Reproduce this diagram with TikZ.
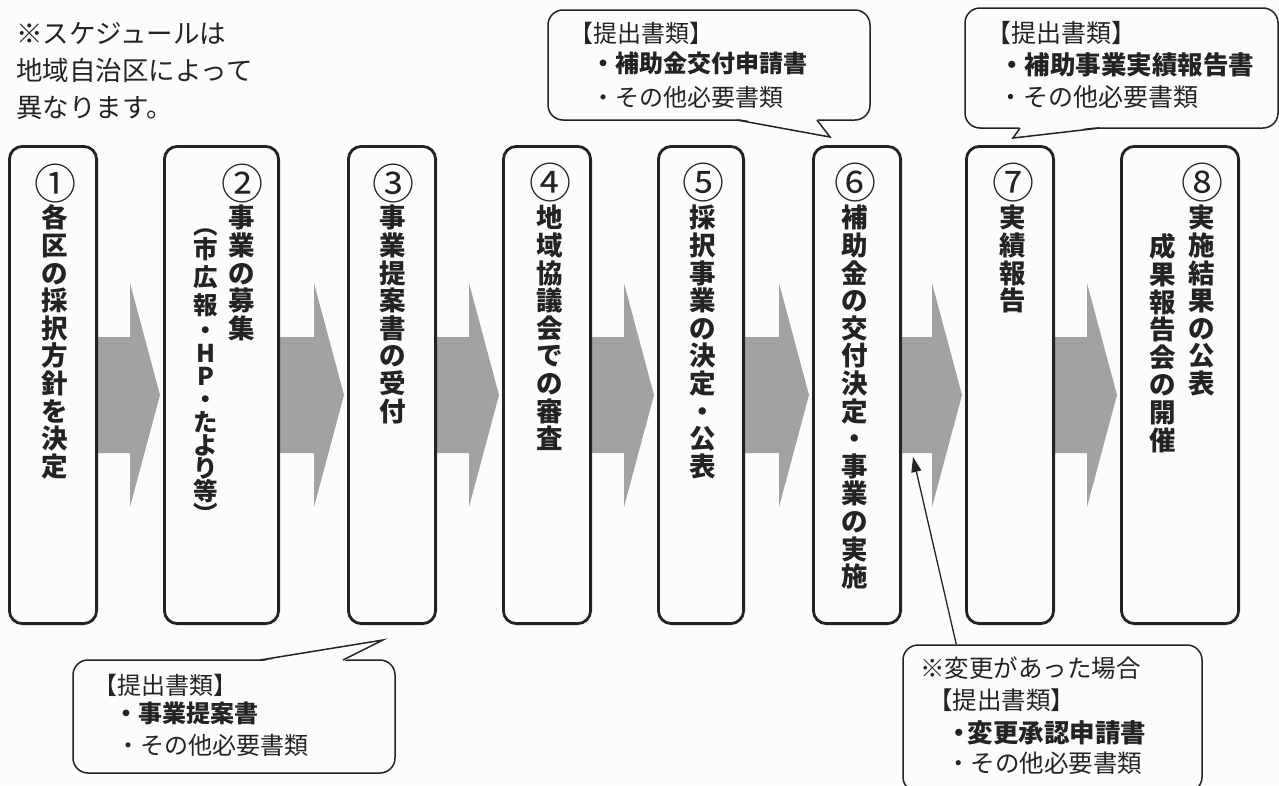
\documentclass[tikz,border=0pt]{standalone}
\usepackage{fontspec}
\setmainfont{Noto Sans CJK JP}
\usetikzlibrary{arrows.meta,calc}
\definecolor{ink}{RGB}{35,35,35}
\definecolor{flowgray}{RGB}{162,162,162}
\definecolor{paper}{RGB}{252,252,250}
\tikzset{
  stepbox/.style={draw=ink, line width=2.8pt, rounded corners=13pt, fill=paper, inner sep=0pt, minimum height=477.2pt},
  ghost/.style={minimum height=477.2pt, inner sep=0pt, outer sep=1.4pt},
  flowarrow/.style={fill=flowgray, draw=none},
  vcol/.style={inner sep=0pt, outer sep=0pt, align=center, anchor=north, text=ink,
    font=\bfseries\fontsize{26.5}{27.6}\selectfont},
  numtext/.style={inner sep=0pt, text=ink, font=\fontsize{28}{28}\selectfont},
  bubble/.style={draw=ink, line width=1.5pt, rounded corners=15pt, fill=paper, inner sep=0pt},
  tailline/.style={draw=ink, line width=1.5pt, line join=miter},
  tailfill/.style={fill=paper, draw=none},
  btext/.style={inner sep=0pt, anchor=base west, text=ink, font=\fontsize{24}{28}\selectfont},
  bbold/.style={btext, font=\bfseries\fontsize{24}{28}\selectfont},
  pointer/.style={draw=ink, line width=1.3pt, -{Triangle[length=15pt,width=10pt]}}
}
\newcommand\flowto[2]{%
  \path[flowarrow] let \p1=(#1.east), \p2=(#2.west) in
    (\x1-3pt,-337pt) -- (\x2-33pt,-337pt) -- (\x2-33pt,-283pt) -- (\x2-3pt,-395pt)
    -- (\x2-33pt,-507pt) -- (\x2-33pt,-453pt) -- (\x1-3pt,-453pt) -- cycle;}
\newcommand\topstrut{\rule{0pt}{26pt}}
\newcommand\circnum[1]{\scalebox{1.5}{#1}}
\begin{document}
\lineskiplimit=-100pt
\begin{tikzpicture}[x=1pt,y=-1pt]
\clip (0,0) rectangle (1279,785);
\fill[paper] (0,0) rectangle (1279,785);

% note
\node[anchor=north west, inner sep=0pt, align=left, text=ink,
  font=\fontsize{26.5}{37}\selectfont] (note) at (16,17)
  {\topstrut ※スケジュールは\\地域自治区によって\\異なります。};

% step boxes (coordinates first, arrows behind)
\path (53,385) coordinate (p1) (221.5,385) coordinate (p2) (392,385) coordinate (p3)
      (547,385) coordinate (p4) (701,385) coordinate (p5) (857,385) coordinate (p6)
      (1010,385) coordinate (p7) (1180,385) coordinate (p8);
\node[ghost, minimum width=87.2pt] (g1) at (p1) {};
\node[ghost, minimum width=114.2pt] (g2) at (p2) {};
\node[ghost, minimum width=87.2pt] (g3) at (p3) {};
\node[ghost, minimum width=87.2pt] (g4) at (p4) {};
\node[ghost, minimum width=85.2pt] (g5) at (p5) {};
\node[ghost, minimum width=87.2pt] (g6) at (p6) {};
\node[ghost, minimum width=87.2pt] (g7) at (p7) {};
\node[ghost, minimum width=117.2pt] (g8) at (p8) {};
\flowto{g1}{g2}
\flowto{g2}{g3}
\flowto{g3}{g4}
\flowto{g4}{g5}
\flowto{g5}{g6}
\flowto{g6}{g7}
\flowto{g7}{g8}

\node[stepbox, minimum width=87.2pt] (s1) at (p1) {};
\node[stepbox, minimum width=114.2pt] (s2) at (p2) {};
\node[stepbox, minimum width=87.2pt] (s3) at (p3) {};
\node[stepbox, minimum width=87.2pt] (s4) at (p4) {};
\node[stepbox, minimum width=85.2pt] (s5) at (p5) {};
\node[stepbox, minimum width=87.2pt] (s6) at (p6) {};
\node[stepbox, minimum width=87.2pt] (s7) at (p7) {};
\node[stepbox, minimum width=117.2pt] (s8) at (p8) {};

% step numbers
\node[numtext] (n1) at (55,184) {\circnum{①}};
\node[numtext] (n2) at (242,184) {\circnum{②}};
\node[numtext] (n3) at (393,184) {\circnum{③}};
\node[numtext] (n4) at (550,183) {\circnum{④}};
\node[numtext] (n5) at (703,183) {\circnum{⑤}};
\node[numtext] (n6) at (855,183) {\circnum{⑥}};
\node[numtext] (n7) at (1013,183) {\circnum{⑦}};
\node[numtext] (n8) at (1202,183) {\circnum{⑧}};

% vertical texts
\node[vcol] (t1) at (55,201.8) {\topstrut 各\\区\\の\\採\\択\\方\\針\\を\\決\\定};
\node[vcol] (t2r) at (242,201.8) {\topstrut 事\\業\\の\\募\\集};
\node[vcol, font=\bfseries\fontsize{24.5}{23}\selectfont] (t2l) at (206,208)
  {\topstrut ︵\\[1pt]市\\[5pt]広\\[5pt]報\\[2pt]・\\H\\P\\・\\た\\よ\\り\\等\\︶};
\node[vcol] (t3) at (393,201.8) {\topstrut 事\\業\\提\\案\\書\\の\\受\\付};
\node[vcol] (t4) at (550,201.8) {\topstrut 地\\域\\協\\議\\会\\で\\の\\審\\査};
\node[vcol] (t5) at (703,201.8) {\topstrut 採\\択\\事\\業\\の\\決\\定\\・\\公\\表};
\node[vcol] (t6) at (855,201.8) {\topstrut 補\\助\\金\\の\\交\\付\\決\\定\\・\\事\\業\\の\\実\\施};
\node[vcol] (t7) at (1013,201.8) {\topstrut 実\\績\\報\\告};
\node[vcol] (t8r) at (1202,201.8) {\topstrut 実\\施\\結\\果\\の\\公\\表};
\node[vcol] (t8l) at (1163,230.8) {\topstrut 成\\果\\報\\告\\会\\の\\開\\催};

% callout 2 (top middle)
\node[bubble, minimum width=322pt, minimum height=110pt] (c2) at (709,65) {};
\coordinate (c2tip) at (830,137);
\coordinate (c2l) at (737,120);
\coordinate (c2r) at (817,120);
\fill[tailfill] ($(c2l)+(0,-1.5)$) -- (c2tip) -- ($(c2r)+(0,-1.5)$) -- cycle;
\draw[tailline] (c2l) -- (c2tip) -- (c2r);
\node[btext] (c2a) at (569,42) {【提出書類】};
\node[bbold] (c2b) at (591,72) {・補助金交付申請書};
\node[btext] (c2c) at (591,106) {・その他必要書類};

% callout 3 (top right)
\node[bubble, minimum width=313pt, minimum height=120pt] (c3) at (1121.5,68) {};
\coordinate (c3tip) at (1013,138);
\coordinate (c3l) at (1020,128);
\coordinate (c3r) at (1100,128);
\fill[tailfill] ($(c3l)+(0,-1.5)$) -- (c3tip) -- ($(c3r)+(0,-1.5)$) -- cycle;
\draw[tailline] (c3l) -- (c3tip) -- (c3r);
\node[btext, font=\fontsize{25}{28}\selectfont] (c3a) at (986,42) {【提出書類】};
\node[bbold, font=\bfseries\fontsize{25.5}{28}\selectfont] (c3b) at (999,74) {・補助事業実績報告書};
\node[btext, font=\fontsize{25}{28}\selectfont] (c3c) at (998,106) {・その他必要書類};

% callout 1 (bottom left)
\node[bubble, minimum width=322pt, minimum height=113pt] (c1) at (234,716.5) {};
\coordinate (c1tip) at (383,640);
\coordinate (c1l) at (260,660);
\coordinate (c1r) at (343,660);
\fill[tailfill] ($(c1l)+(0,1.5)$) -- (c1tip) -- ($(c1r)+(0,1.5)$) -- cycle;
\draw[tailline] (c1l) -- (c1tip) -- (c1r);
\node[btext] (c1a) at (93,694) {【提出書類】};
\node[bbold] (c1b) at (114,722) {・事業提案書};
\node[btext] (c1c) at (116,754) {・その他必要書類};

% callout 4 (bottom right)
\node[bubble, minimum width=299pt, minimum height=147pt] (c4) at (1052.5,718.5) {};
\coordinate (c4tip) at (913,457);
\draw[pointer] ([xshift=54pt]c4.north west) -- (c4tip);
\node[btext, font=\fontsize{24.5}{28}\selectfont] (c4a) at (920,677) {※変更があった場合};
\node[btext, font=\fontsize{24.5}{28}\selectfont] (c4b) at (928,709) {【提出書類】};
\node[bbold, font=\bfseries\fontsize{25.5}{28}\selectfont] (c4c) at (946,742) {・\hspace{-4pt}変更承認申請書};
\node[btext, font=\fontsize{24.5}{28}\selectfont] (c4d) at (946,772) {・その他必要書類};
\end{tikzpicture}
\end{document}
